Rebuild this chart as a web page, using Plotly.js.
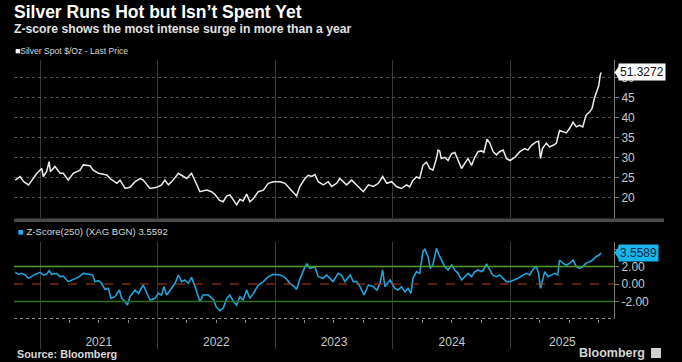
<!DOCTYPE html>
<html>
<head>
<meta charset="utf-8">
<script src="https://cdn.plot.ly/plotly-3.0.1.min.js"></script>
<style>
html,body{margin:0;padding:0;background:#000;}
#chart{width:682px;height:362px;}
</style>
</head>
<body>
<div id="chart"></div>
<script>
// ---------- DATA ----------
const silverDates = ['2020-10-16','2020-10-31','2020-11-11','2020-11-26','2020-12-07','2020-12-22','2021-01-06','2021-01-11','2021-01-21','2021-01-29','2021-02-02','2021-02-16','2021-03-04','2021-03-14','2021-03-29','2021-04-14','2021-05-05','2021-05-15','2021-06-05','2021-06-15','2021-07-01','2021-07-27','2021-08-06','2021-08-27','2021-09-06','2021-09-22','2021-10-07','2021-10-23','2021-11-07','2021-11-17','2021-12-08','2021-12-29','2022-01-13','2022-01-23','2022-02-03','2022-02-18','2022-03-06','2022-03-21','2022-04-01','2022-04-16','2022-04-27','2022-05-12','2022-06-02','2022-06-17','2022-06-28','2022-07-11','2022-07-23','2022-08-03','2022-08-13','2022-08-24','2022-09-03','2022-09-13','2022-09-23','2022-10-04','2022-10-14','2022-10-25','2022-11-09','2022-11-25','2022-12-10','2022-12-26','2023-01-16','2023-01-31','2023-02-15','2023-02-25','2023-03-08','2023-03-18','2023-04-03','2023-04-13','2023-04-24','2023-05-04','2023-05-14','2023-05-30','2023-06-14','2023-06-25','2023-07-10','2023-07-20','2023-07-31','2023-08-10','2023-08-26','2023-09-10','2023-10-01','2023-10-17','2023-11-01','2023-11-17','2023-11-30','2023-12-13','2023-12-28','2024-01-12','2024-01-27','2024-02-12','2024-02-22','2024-03-03','2024-03-14','2024-03-24','2024-04-03','2024-04-14','2024-04-24','2024-05-04','2024-05-15','2024-05-20','2024-05-25','2024-05-30','2024-06-10','2024-06-20','2024-07-01','2024-07-11','2024-07-21','2024-08-01','2024-08-11','2024-08-21','2024-09-01','2024-09-11','2024-09-21','2024-10-02','2024-10-09','2024-10-19','2024-10-28','2024-11-07','2024-11-17','2024-11-27','2024-12-08','2024-12-18','2024-12-29','2025-01-13','2025-01-29','2025-02-13','2025-02-23','2025-03-06','2025-03-19','2025-03-28','2025-04-03','2025-04-09','2025-04-21','2025-05-01','2025-05-12','2025-05-22','2025-06-01','2025-06-12','2025-06-22','2025-07-02','2025-07-13','2025-07-23','2025-08-02','2025-08-12','2025-08-22','2025-09-02','2025-09-10','2025-09-17','2025-09-24','2025-10-01','2025-10-05','2025-10-08'];
const silverPrice = [24.4,25.3,24.0,23.2,24.4,26.1,27.3,25.3,26.5,29.0,26.5,27.8,26.1,26.1,24.4,26.1,26.9,28.2,28.0,26.9,26.1,25.7,24.8,23.6,24.4,22.3,22.6,24.0,24.8,24.4,22.3,22.6,23.2,24.4,23.2,24.4,26.1,25.3,24.8,26.1,24.0,21.5,21.9,21.5,20.8,19.4,19.0,20.4,20.7,19.4,18.2,19.6,19.2,20.9,19.0,19.8,21.5,21.9,23.6,24.0,24.0,23.6,22.3,21.5,20.4,22.8,24.8,25.6,25.3,25.8,24.0,23.2,24.0,22.8,23.6,24.8,24.0,23.2,24.4,23.2,21.5,23.2,22.8,23.6,25.3,23.6,24.0,22.8,22.3,23.2,22.7,24.3,25.2,24.8,28.1,28.9,27.3,26.9,29.8,31.9,31.7,29.8,30.1,29.3,31.0,31.3,29.3,27.3,28.6,29.8,28.1,30.1,31.5,31.7,31.3,34.6,33.6,31.5,30.7,31.5,31.9,29.8,29.3,30.1,31.5,32.3,31.9,33.1,33.9,34.1,29.8,32.3,33.6,32.7,33.1,33.6,36.8,36.4,36.2,37.3,38.9,37.7,38.1,37.7,40.6,41.4,42.3,44.8,46.4,48.1,50.6,51.3272];

const zDates = ['2020-10-16','2020-10-26','2020-11-05','2020-11-15','2020-11-26','2020-12-07','2020-12-16','2021-01-01','2021-01-11','2021-01-21','2021-01-29','2021-02-06','2021-02-21','2021-03-04','2021-03-14','2021-03-29','2021-04-14','2021-04-29','2021-05-15','2021-05-31','2021-06-13','2021-06-20','2021-07-01','2021-07-11','2021-07-21','2021-08-01','2021-08-09','2021-08-21','2021-09-04','2021-09-11','2021-09-22','2021-09-29','2021-10-07','2021-10-23','2021-11-02','2021-11-17','2021-11-28','2021-12-08','2021-12-24','2022-01-03','2022-01-13','2022-01-20','2022-01-29','2022-02-08','2022-02-24','2022-03-06','2022-03-16','2022-03-26','2022-04-06','2022-04-16','2022-04-27','2022-05-12','2022-05-22','2022-06-07','2022-06-17','2022-06-24','2022-07-01','2022-07-13','2022-07-23','2022-08-03','2022-08-13','2022-08-24','2022-09-03','2022-09-13','2022-09-23','2022-10-04','2022-10-14','2022-10-25','2022-11-09','2022-11-25','2022-12-10','2022-12-26','2023-01-16','2023-01-31','2023-02-15','2023-02-27','2023-03-08','2023-03-18','2023-04-03','2023-04-09','2023-04-18','2023-05-04','2023-05-14','2023-05-30','2023-06-09','2023-06-19','2023-06-29','2023-07-15','2023-07-25','2023-08-05','2023-08-21','2023-08-31','2023-09-10','2023-09-21','2023-10-03','2023-10-17','2023-11-01','2023-11-12','2023-11-22','2023-11-30','2023-12-07','2023-12-23','2024-01-07','2024-01-17','2024-01-27','2024-02-07','2024-02-17','2024-02-26','2024-03-03','2024-03-14','2024-03-24','2024-04-03','2024-04-09','2024-04-19','2024-04-26','2024-05-04','2024-05-15','2024-05-23','2024-05-30','2024-06-10','2024-06-20','2024-07-01','2024-07-11','2024-07-21','2024-08-01','2024-08-11','2024-08-21','2024-09-01','2024-09-11','2024-09-21','2024-10-02','2024-10-09','2024-10-17','2024-10-25','2024-11-05','2024-11-17','2024-11-27','2024-12-08','2024-12-18','2024-12-29','2025-01-13','2025-01-23','2025-02-08','2025-02-18','2025-02-28','2025-03-13','2025-03-21','2025-03-28','2025-04-03','2025-04-09','2025-04-16','2025-04-26','2025-05-07','2025-05-17','2025-05-26','2025-06-01','2025-06-12','2025-06-22','2025-07-02','2025-07-13','2025-07-23','2025-08-02','2025-08-12','2025-08-22','2025-09-02','2025-09-12','2025-09-22','2025-10-02','2025-10-08'];
const zScore = [1.33,1.10,1.22,1.03,0.65,0.91,1.10,1.33,1.03,1.10,1.52,1.10,1.22,0.84,0.91,0.27,0.53,0.76,1.22,1.14,1.03,0.27,0.38,0.08,-0.61,-0.50,-1.64,-1.45,-0.69,-1.64,-2.02,-2.40,-1.45,-0.69,-1.07,-0.11,-1.07,-1.83,-1.64,-1.07,-1.26,-0.30,-1.26,-0.69,0.08,1.03,0.27,0.46,0.08,0.76,-0.30,-2.02,-1.26,-1.26,-1.64,-1.83,-2.59,-3.05,-2.78,-1.64,-1.26,-2.02,-2.40,-1.45,-1.83,-0.69,-1.64,-1.07,-0.11,0.27,0.84,1.10,1.03,0.76,0.08,-0.23,-0.61,0.53,1.98,2.29,1.79,1.98,0.84,0.65,1.03,0.65,0.27,1.22,1.03,0.27,1.03,0.27,0.27,-0.30,-1.26,-0.11,-0.30,-0.69,0.08,1.60,-0.30,0.46,-0.50,-0.69,-0.30,-0.88,-0.50,-1.07,0.65,1.41,1.22,3.70,3.96,3.12,1.79,2.17,4.08,3.31,2.74,1.98,1.60,2.17,1.60,1.22,0.46,0.84,1.22,0.84,1.41,1.60,1.41,1.68,2.29,1.79,1.03,0.84,1.03,0.65,0.27,0.27,0.46,0.65,1.03,1.22,1.03,1.79,1.98,1.22,-0.50,0.27,1.41,0.84,1.03,1.22,1.03,2.74,2.36,2.17,2.36,2.74,1.98,1.79,1.98,2.36,2.55,2.74,3.12,3.31,3.5589];

const yearLabels = ['2021','2022','2023','2024','2025'];
const priceTicks = [20,25,30,35,40,45,50];
const zTicks = [-4,-2,0,2,4];
const zBandLevels = [2,-2];
const lastPriceText = '51.3272';
const lastZText = '3.5589';

// ---------- LAYOUT HELPERS ----------
const W = 682, H = 362, L = 14, R = 614;
const px = p => (p - L) / (R - L);
const py = p => (H - p) / H;
const xRange = ['2020-10-12','2025-11-17'];
const rangeEnd = new Date(xRange[1]).getTime();
const labelPos = yearLabels.map(y => {
  const a = new Date(y + '-01-01').getTime();
  const b = Math.min(new Date((+y + 1) + '-01-01').getTime(), rangeEnd);
  return new Date((a + b) / 2).toISOString().slice(0, 10);
});

const FONT = 'Liberation Sans, Arial, sans-serif';
const GREY = '#c8c8c8';

const traces = [
  {x: silverDates, y: silverPrice, type: 'scatter', mode: 'lines', xaxis: 'x', yaxis: 'y',
   line: {color: '#ececec', width: 1.5}, hoverinfo: 'skip'},
  {x: zDates, y: zScore, type: 'scatter', mode: 'lines', xaxis: 'x2', yaxis: 'y2',
   line: {color: '#1ea4dc', width: 1.6}, hoverinfo: 'skip'},
  {x: [zDates[0]], y: [null], type: 'scatter', mode: 'lines', xaxis: 'x3', yaxis: 'y2', hoverinfo: 'skip'}
];

const shapes = [];
shapes.push({type: 'rect', xref: 'paper', yref: 'paper', x0: 0, x1: px(664), y0: py(222), y1: py(218.5),
  fillcolor: '#4a4a4a', line: {width: 0}, layer: 'below'});
shapes.push({type: 'line', xref: 'paper', yref: 'y2 domain', x0: 0, x1: 1, y0: 0, y1: 0,
  line: {color: '#8a8a8a', width: 1, dash: 'dot'}});
zBandLevels.forEach((v, i) => shapes.push({type: 'line', xref: 'paper', yref: 'y2', x0: 0, x1: 1, y0: v, y1: v,
  line: {color: i === 0 ? '#4f9e2c' : '#2e6f20', width: 1.5}}));
shapes.push({type: 'line', xref: 'paper', yref: 'y2', x0: 0, x1: 1, y0: 0, y1: 0,
  line: {color: '#b03c1c', width: 1, dash: 'dash'}});
shapes.push({type: 'path', xref: 'paper', yref: 'y', xsizemode: 'pixel', ysizemode: 'pixel',
  xanchor: 1, yanchor: silverPrice[silverPrice.length - 1], path: 'M 0.5 0 L 5 6.5 L 5 -6.5 Z',
  fillcolor: '#ffffff', line: {width: 0}});
shapes.push({type: 'path', xref: 'paper', yref: 'y2', xsizemode: 'pixel', ysizemode: 'pixel',
  xanchor: 1, yanchor: zScore[zScore.length - 1], path: 'M 0.5 0 L 5 6.5 L 5 -6.5 Z',
  fillcolor: '#1ab4ec', line: {width: 0}});
shapes.push({type: 'rect', xref: 'paper', yref: 'paper', x0: px(651), x1: px(661), y0: py(358), y1: py(348),
  fillcolor: '#cfcfcf', line: {width: 0}});

const annotations = [
  {text: '<b>Silver Runs Hot but Isn’t Spent Yet</b>', xref: 'paper', yref: 'paper', x: px(12), y: py(0.5),
   xanchor: 'left', yanchor: 'top', showarrow: false, font: {family: FONT, size: 17.5, color: '#ffffff'}},
  {text: '<b>Z-score shows the most intense surge in more than a year</b>', xref: 'paper', yref: 'paper', x: px(12), y: py(20),
   xanchor: 'left', yanchor: 'top', showarrow: false, font: {family: FONT, size: 12.2, color: '#e2e2e2'}},
  {text: '<span style="color:#ffffff">■</span>Silver Spot $/Oz - Last Price', xref: 'paper', yref: 'paper', x: px(13), y: py(51),
   xanchor: 'left', yanchor: 'middle', showarrow: false, font: {family: FONT, size: 8.6, color: '#d8d8d8'}},
  {text: '<span style="color:#1ab4ec">■</span> Z-Score(250) (XAG BGN) 3.5592', xref: 'paper', yref: 'paper', x: px(16), y: py(232),
   xanchor: 'left', yanchor: 'middle', showarrow: false, font: {family: FONT, size: 9.6, color: '#d8d8d8'}},
  {text: lastPriceText, xref: 'paper', yref: 'y', x: 1, y: silverPrice[silverPrice.length - 1], xanchor: 'left', yanchor: 'middle',
   xshift: 4, showarrow: false, bgcolor: '#ffffff', borderpad: 1, font: {family: FONT, size: 12, color: '#111'}},
  {text: lastZText, xref: 'paper', yref: 'y2', x: 1, y: zScore[zScore.length - 1], xanchor: 'left', yanchor: 'middle',
   xshift: 4, showarrow: false, bgcolor: '#1ab4ec', borderpad: 1, font: {family: FONT, size: 12, color: '#0b2a3a'}},
  {text: '<b>Source: Bloomberg</b>', xref: 'paper', yref: 'paper', x: px(15), y: py(354),
   xanchor: 'left', yanchor: 'middle', showarrow: false, font: {family: FONT, size: 10.8, color: '#d8d8d8'}},
  {text: '<b>Bloomberg</b>', xref: 'paper', yref: 'paper', x: px(647), y: py(353),
   xanchor: 'right', yanchor: 'middle', showarrow: false, font: {family: FONT, size: 12.5, color: '#d4d4d4'}}
];

const layout = {
  width: W, height: H,
  margin: {l: L, r: W - R, t: 0, b: 0, pad: 0},
  paper_bgcolor: '#000000', plot_bgcolor: '#000000',
  showlegend: false,
  xaxis: {domain: [0, 1], anchor: 'y', type: 'date', range: xRange, showticklabels: false, ticks: '',
    showgrid: true, dtick: 'M12', tick0: '2021-01-01', gridcolor: '#3a3a3a', gridwidth: 1, zeroline: false, showline: false},
  yaxis: {domain: [py(218), py(60)], anchor: 'x', range: [14.925, 54.425], side: 'right', tickvals: priceTicks,
    showgrid: true, gridcolor: '#505050', griddash: 'dot', gridwidth: 1, zeroline: false,
    showline: true, linecolor: '#7a7a7a', linewidth: 1, ticks: 'outside', ticklen: 4, tickcolor: '#7a7a7a',
    tickfont: {family: FONT, size: 12, color: GREY}},
  xaxis2: {domain: [0, 1], anchor: 'y2', type: 'date', range: xRange, showticklabels: false, ticks: 'outside', ticklen: 29,
    tickcolor: '#3a3a3a', showgrid: true, dtick: 'M12', tick0: '2021-01-01', gridcolor: '#3a3a3a', zeroline: false, showline: false,
    minor: {dtick: 'M3', ticks: 'outside', ticklen: 3, tickcolor: '#8a8a8a', showgrid: false}},
  xaxis3: {overlaying: 'x2', anchor: 'y2', type: 'date', range: xRange, tickvals: labelPos, ticktext: yearLabels,
    ticks: 'outside', ticklen: 12, tickcolor: 'rgba(0,0,0,0)', showgrid: false, zeroline: false, showline: false,
    tickfont: {family: FONT, size: 12, color: GREY}},
  yaxis2: {domain: [py(318.5), py(242)], anchor: 'x2', range: [-3.94, 4.8], side: 'right', tickvals: zTicks,
    ticktext: zTicks.map(v => Math.abs(v) === 4 ? '' : v.toFixed(2)),
    showgrid: false, zeroline: false, showline: true, linecolor: '#7a7a7a', ticks: 'outside', ticklen: 4, tickcolor: '#7a7a7a',
    tickfont: {family: FONT, size: 12, color: GREY}},
  shapes: shapes,
  annotations: annotations
};

Plotly.newPlot('chart', traces, layout, {staticPlot: true, displayModeBar: false});
</script>
</body>
</html>
